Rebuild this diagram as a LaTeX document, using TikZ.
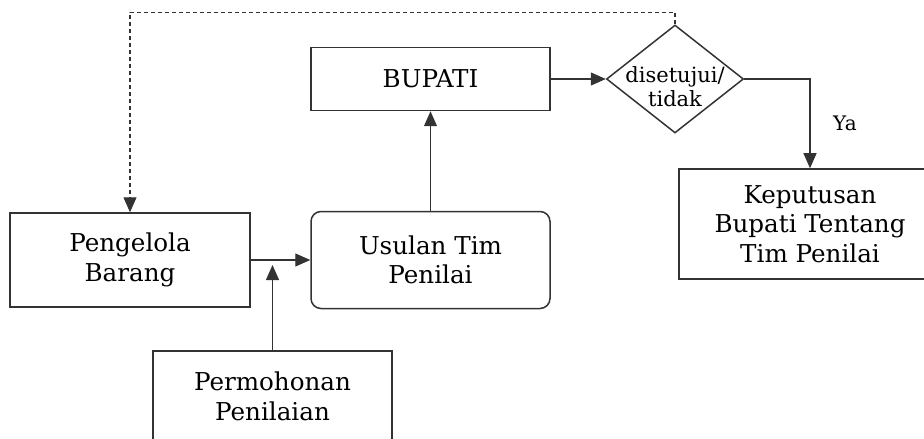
\documentclass[tikz,border=0pt]{standalone}
\usepackage{fontspec}
\setmainfont{DejaVu Serif}
\usetikzlibrary{shapes.geometric, arrows.meta}

\tikzset{
  kotak/.style={draw=black!80, line width=0.75pt, align=center, inner sep=0pt,
    font=\fontsize{12.3}{14.8}\selectfont},
  panah/.style={-{Triangle[length=7.5pt,width=6.5pt]}, draw=black!80, line width=0.55pt},
}

\begin{document}
\begin{tikzpicture}[x=0.5pt, y=-0.5pt]
    \clip (0,0) rectangle (924,438);

    % Kotak:
    \node[kotak, minimum width=119.5pt, minimum height=31.5pt] (bupati) at (430.5,79) {BUPATI};
    \node[draw=black!80, line width=0.75pt, diamond, inner sep=0pt,
          minimum width=68.5pt, minimum height=54pt] (cek) at (675,79) {};
    \node[align=center, font=\fontsize{10.5}{12}\selectfont] (cektxt) at ([yshift=-4pt]cek.center) {disetujui/\\tidak};
    \node[kotak, minimum width=131pt, minimum height=55pt] (keputusan) at (810,224) {Keputusan\\Bupati Tentang\\Tim Penilai};
    \node[kotak, minimum width=120pt, minimum height=47pt] (pengelola) at (130,260) {Pengelola\\Barang};
    \node[kotak, rounded corners=5pt, minimum width=119.5pt, minimum height=48.5pt] (usulan) at (430.5,260) {Usulan Tim\\Penilai};
    \node[kotak, minimum width=119.5pt, minimum height=45.5pt] (permohonan) at (272.5,396.5) {Permohonan\\Penilaian};

    % Panah:
    \draw[panah] (bupati.east) -- (cek.west);
    \draw[panah] (cek.east) -| node[pos=0.75, right=8pt, font=\fontsize{10}{12}\selectfont] (ya) {Ya} (keputusan.north);
    \draw[panah] (usulan.north) -- (bupati.south);
    \draw[panah] (pengelola.east) -- (usulan.west);
    \draw[panah, shorten >=2.5pt] (permohonan.north) -- (permohonan.north |- pengelola.east);
    \draw[panah, dash pattern=on 2pt off 1.5pt] (cek.north) -- ++(0,-12) -| (pengelola.north);
\end{tikzpicture}
\end{document}
